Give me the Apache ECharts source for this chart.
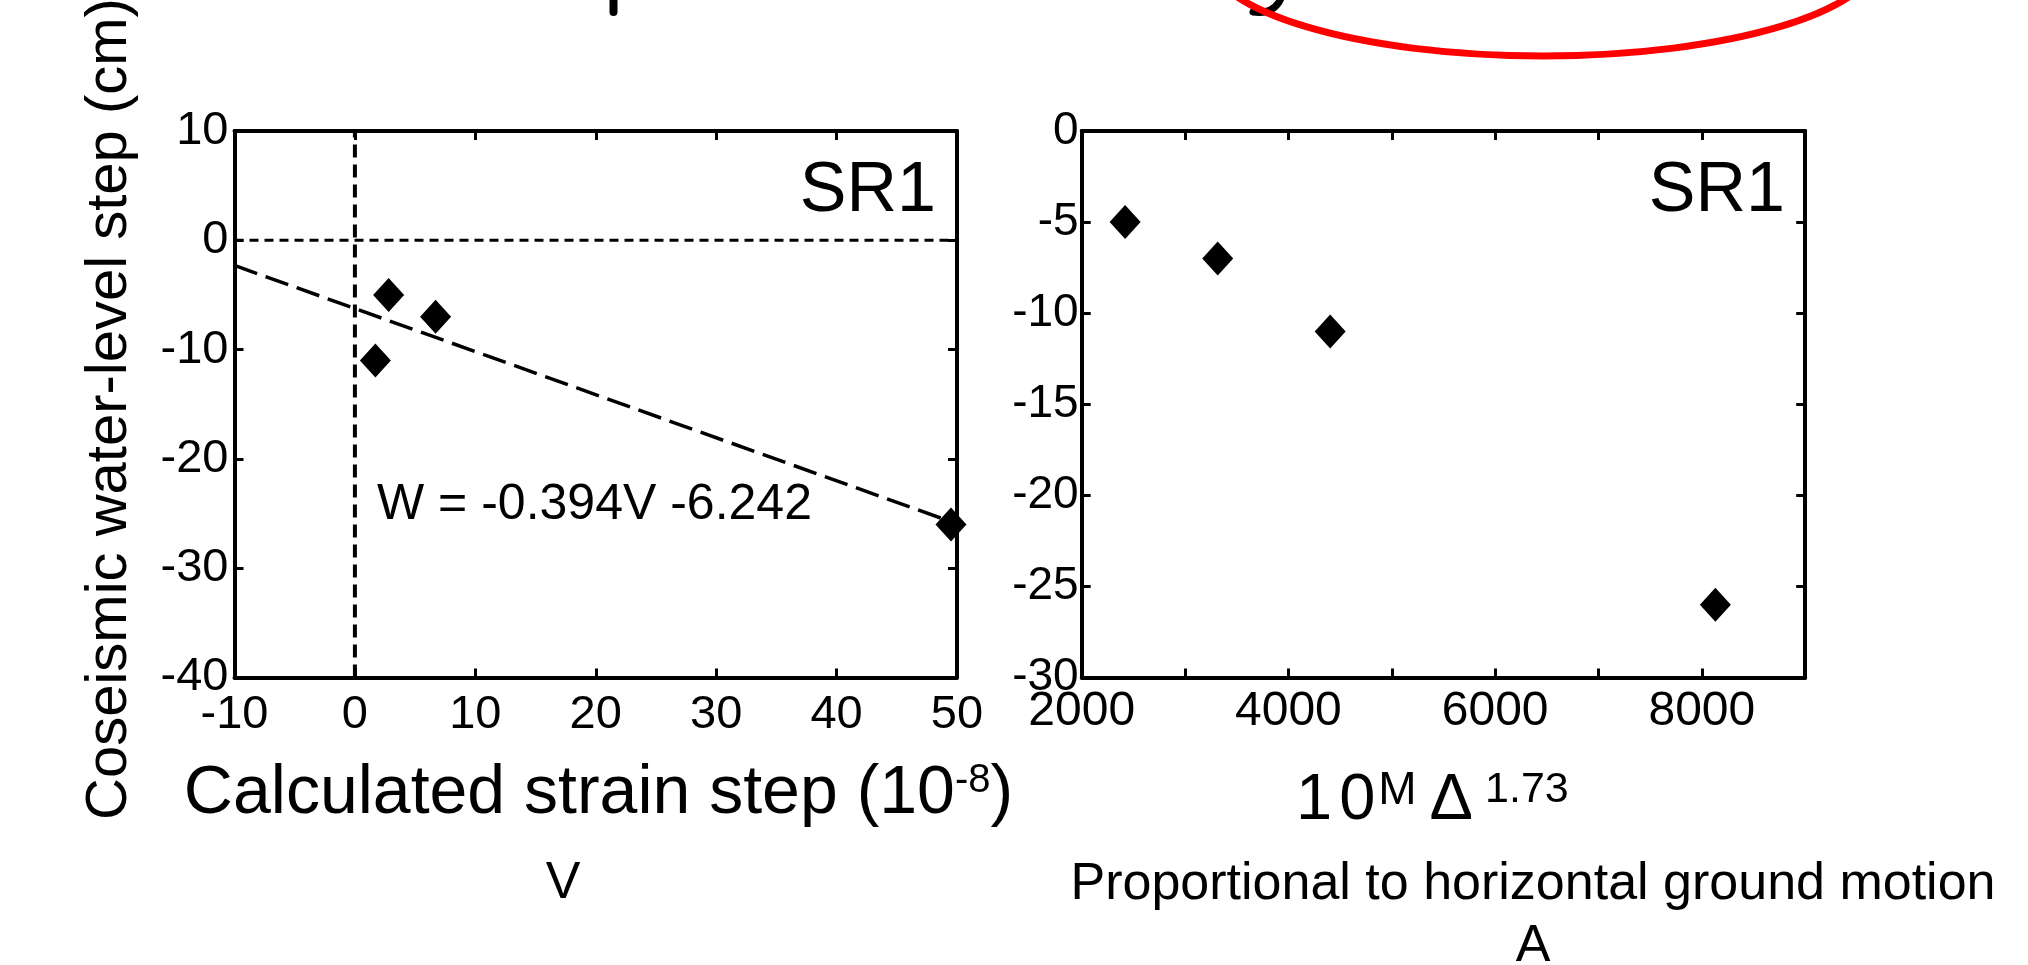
<!DOCTYPE html>
<html>
<head>
<meta charset="utf-8">
<title>SR1 coseismic water-level steps</title>
<script src="https://cdn.jsdelivr.net/npm/echarts@6/dist/echarts.min.js"></script>
<style>
  html, body { margin: 0; padding: 0; background: #ffffff; }
  #chart { width: 2028px; height: 965px; }
</style>
</head>
<body>
<div id="chart"></div>
<script>
// Coseismic water-level step at well SR1 for each event (cm)
const waterLevelStep = [-5, -7, -11, -26];
// Calculated static strain step for the same events (10^-8)
const strainStep = [2.8, 6.7, 1.7, 49.5];
// 10^M * Δ^1.73 for the same events (proportional to horizontal ground motion)
const groundMotion = [2420, 3316, 4404, 8131];

// Linear fit W = a V + b
const fitSlope = -0.394;
const fitIntercept = -6.242;
const fitRange = [-10, 50];

// Axis ranges and tick spacing
const strainAxis = { min: -10, max: 50, interval: 10 };
const waterAxisLeft = { min: -40, max: 10, interval: 10 };
const motionAxis = { min: 2000, max: 9000, interval: 1000 };
const waterAxisRight = { min: -30, max: 0, interval: 5 };
// Labelled ticks on the ground-motion axis
const motionTickLabels = [2000, 4000, 6000, 8000];

const FONT = '"Liberation Sans", Arial, Helvetica, sans-serif';
const INK = '#000000';

function frameAxis(gridIndex, range, position, label) {
  return {
    type: 'value',
    gridIndex: gridIndex,
    position: position,
    min: range.min,
    max: range.max,
    interval: range.interval,
    axisLine: { show: true, onZero: false, lineStyle: { color: INK, width: 4 } },
    axisTick: { show: true, inside: true, length: 9, lineStyle: { color: INK, width: 3 } },
    splitLine: { show: false },
    axisLabel: label ? Object.assign({
      show: true, color: INK, fontFamily: FONT, fontSize: 47
    }, label) : { show: false }
  };
}

const chart = echarts.init(document.getElementById('chart'), null, { renderer: 'canvas' });

const fitLine = fitRange.map(v => [v, fitSlope * v + fitIntercept]);

const option = {
  backgroundColor: '#ffffff',
  animation: false,
  grid: [
    { left: 234.5, top: 131, width: 722.5, height: 546.5, outerBoundsMode: 'none' },
    { left: 1081.7, top: 131, width: 723.5, height: 546.5, outerBoundsMode: 'none' }
  ],
  xAxis: [
    frameAxis(0, strainAxis, 'bottom', { margin: 14 }),
    frameAxis(0, strainAxis, 'top', null),
    frameAxis(1, motionAxis, 'bottom', {
      margin: 10, fontSize: 48,
      formatter: v => (motionTickLabels.indexOf(v) >= 0 ? String(v) : '')
    }),
    frameAxis(1, motionAxis, 'top', null)
  ],
  yAxis: [
    frameAxis(0, waterAxisLeft, 'left', { margin: 6, padding: [6, 0, 0, 0] }),
    frameAxis(0, waterAxisLeft, 'right', null),
    frameAxis(1, waterAxisRight, 'left', { margin: 3, fontSize: 46, padding: [0, 0, 20, 0] }),
    frameAxis(1, waterAxisRight, 'right', null)
  ],
  series: [
    {
      name: 'zero level',
      type: 'line', xAxisIndex: 0, yAxisIndex: 0,
      data: [[strainAxis.min, 0], [strainAxis.max, 0]],
      symbol: 'none', silent: true, z: 2,
      lineStyle: { color: INK, width: 3, type: [9, 6], opacity: 1 }
    },
    {
      name: 'zero strain',
      type: 'line', xAxisIndex: 0, yAxisIndex: 0,
      data: [[0, waterAxisLeft.min], [0, waterAxisLeft.max]],
      symbol: 'none', silent: true, z: 2,
      lineStyle: { color: INK, width: 4, type: [13, 7], opacity: 1 }
    },
    {
      name: 'fit',
      type: 'line', xAxisIndex: 0, yAxisIndex: 0,
      data: fitLine,
      symbol: 'none', silent: true, z: 2,
      lineStyle: { color: INK, width: 3.5, type: [24, 9], opacity: 1 }
    },
    {
      name: 'strain',
      type: 'scatter', xAxisIndex: 0, yAxisIndex: 0,
      data: strainStep.map((v, i) => [v, waterLevelStep[i]]),
      symbol: 'diamond', symbolSize: [31, 34], z: 5,
      itemStyle: { color: INK, opacity: 1 }
    },
    {
      name: 'ground motion',
      type: 'scatter', xAxisIndex: 2, yAxisIndex: 2,
      data: groundMotion.map((v, i) => [v, waterLevelStep[i]]),
      symbol: 'diamond', symbolSize: [31, 34], z: 5,
      itemStyle: { color: INK, opacity: 1 }
    }
  ],
  graphic: [
    // tail of the heading line above the panels
    { type: 'rect', shape: { x: 609.5, y: -10, width: 8, height: 26, r: 4 }, style: { fill: INK } },
    { type: 'bezierCurve', shape: { x1: 1282, y1: -4, cpx1: 1275, cpy1: 15, x2: 1253, y2: 12 },
      style: { stroke: INK, lineWidth: 7, fill: 'none', lineCap: 'round' } },
    { type: 'ellipse', shape: { cx: 1543, cy: -44, rx: 335, ry: 100 },
      style: { fill: 'none', stroke: '#ff0000', lineWidth: 7 } },

    // panel captions
    { type: 'text', x: 936, y: 192, style: { text: 'SR1', fontFamily: FONT, fontSize: 70, fill: INK, align: 'right', verticalAlign: 'middle' } },
    { type: 'text', x: 1785, y: 192, style: { text: 'SR1', fontFamily: FONT, fontSize: 70, fill: INK, align: 'right', verticalAlign: 'middle' } },
    { type: 'text', x: 377, y: 505, z: 10,
      style: { text: 'W = ' + fitSlope + 'V ' + fitIntercept, fontFamily: FONT, fontSize: 50, fill: INK, align: 'left', verticalAlign: 'middle' } },

    // axis titles
    { type: 'text', x: 110, y: 409, rotation: Math.PI / 2,
      style: { text: 'Coseismic water-level step (cm)', fontFamily: FONT, fontSize: 58, fill: INK, align: 'center', verticalAlign: 'middle' } },
    { type: 'text', x: 598.5, y: 760.7,
      style: {
        text: '{b|Calculated strain step (10}{s|-8}{b|)}',
        fill: INK, align: 'center', verticalAlign: 'top',
        rich: {
          b: { fontFamily: FONT, fontSize: 68, lineHeight: 68, verticalAlign: 'bottom', fill: INK },
          s: { fontFamily: FONT, fontSize: 40, lineHeight: 32, verticalAlign: 'top', fill: INK }
        }
      } },
    { type: 'text', x: 1296, y: 768.4,
      style: {
        text: '{n|1}{z|0}{m|M}{d|\u0394}{s|1.73}',
        fill: INK, align: 'left', verticalAlign: 'top',
        rich: {
          n: { fontFamily: FONT, fontSize: 65, lineHeight: 65, verticalAlign: 'bottom', padding: [0, 7, 0, 0], fill: INK },
          z: { fontFamily: FONT, fontSize: 65, lineHeight: 65, verticalAlign: 'bottom', fill: INK },
          m: { fontFamily: FONT, fontSize: 46, lineHeight: 26, verticalAlign: 'top', padding: [0, 13, 0, 3], fill: INK },
          d: { fontFamily: FONT, fontSize: 65, lineHeight: 65, verticalAlign: 'bottom', fill: INK },
          s: { fontFamily: FONT, fontSize: 43, lineHeight: 28, verticalAlign: 'top', padding: [0, 0, 0, 12], fill: INK }
        }
      } },

    // variable names under the panels
    { type: 'text', x: 563, y: 883.4, style: { text: 'V', fontFamily: FONT, fontSize: 52, fill: INK, align: 'center', verticalAlign: 'middle' } },
    { type: 'text', x: 1533, y: 853.4,
      style: { text: 'Proportional to horizontal ground motion\nA', fontFamily: FONT, fontSize: 52, lineHeight: 62, fill: INK, align: 'center', verticalAlign: 'top' } }
  ]
};

chart.setOption(option);
</script>
</body>
</html>
